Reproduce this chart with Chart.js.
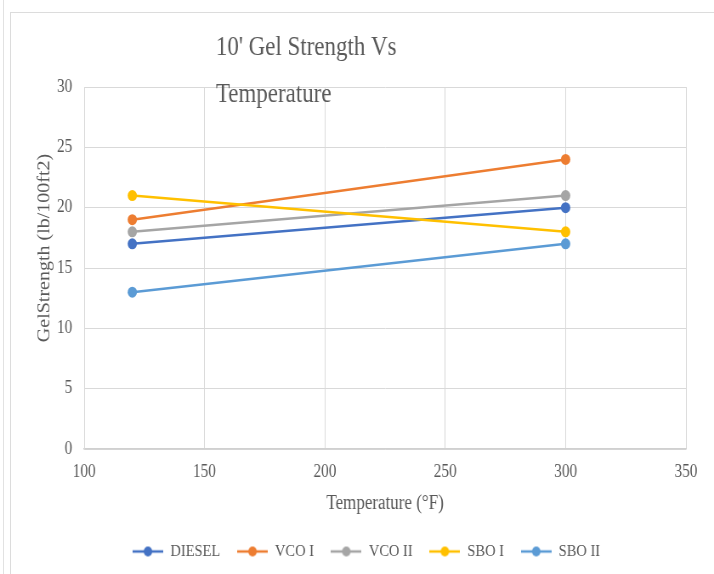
<!DOCTYPE html>
<html>
<head>
<meta charset="utf-8">
<script src="https://cdn.jsdelivr.net/npm/chart.js@4/dist/chart.umd.min.js"></script>
<style>
  html, body { margin: 0; padding: 0; background: #ffffff; overflow: hidden; }
  #wrap { position: relative; width: 714px; height: 574px; }
  #edge { position: absolute; left: 3px; top: 0; width: 1px; height: 574px; background: #e2e2e2; }
  #box { position: absolute; left: 10px; top: 12px; width: 720px; height: 600px; border: 1px solid #dcdcdc; box-sizing: border-box; }
  #c { position: absolute; left: 0; top: 0; width: 714px; height: 574px; }
</style>
</head>
<body>
<div id="wrap">
  <div id="edge"></div>
  <div id="box"></div>
  <canvas id="c" width="840" height="574" style="width:714px;height:574px;"></canvas>
</div>
<script>
// ---- data ----
const temperatures = [120, 300];
const seriesNames = ['DIESEL', 'VCO I', 'VCO II', 'SBO I', 'SBO II'];
const diesel = [17, 20];
const vcoI = [19, 24];
const vcoII = [18, 21];
const sboI = [21, 18];
const sboII = [13, 17];
const xTickValues = [100, 150, 200, 250, 300, 350];
const yTickValues = [0, 5, 10, 15, 20, 25, 30];
const titleLines = ["10' Gel Strength Vs", 'Temperature'];
const xTitle = 'Temperature (°F)';
const yTitle = 'GelStrength (lb/100ft2)';

const colors = ['#4472C4', '#ED7D31', '#A5A5A5', '#FFC000', '#5B9BD5'];
const values = [diesel, vcoI, vcoII, sboI, sboII];
const FONT = "'Liberation Serif', 'Times New Roman', serif";
const TEXT = '#595959';

function legendIcon(color) {
  const c = document.createElement('canvas');
  c.width = 36; c.height = 12;
  const g = c.getContext('2d');
  g.strokeStyle = color; g.lineWidth = 2.5;
  g.beginPath(); g.moveTo(0, 6); g.lineTo(36, 6); g.stroke();
  g.fillStyle = color;
  g.beginPath(); g.arc(18, 6, 5, 0, Math.PI * 2); g.fill();
  return c;
}
const icons = colors.map(legendIcon);

const datasets = seriesNames.map((name, i) => ({
  label: name,
  data: temperatures.map((t, j) => ({ x: t, y: values[i][j] })),
  borderColor: colors[i],
  backgroundColor: colors[i],
  borderWidth: 2.5,
  pointRadius: 5.5,
  pointHoverRadius: 5.5,
  pointBorderWidth: 0,
  order: seriesNames.length - i
}));

const textPlugin = {
  id: 'textPlugin',
  afterDraw(chart) {
    const ctx = chart.ctx;
    ctx.save();
    ctx.fillStyle = TEXT;
    ctx.textBaseline = 'middle';
    ctx.textAlign = 'left';
    ctx.font = '27px ' + FONT;
    ctx.fillText(titleLines[0], 254, 48);
    ctx.fillText(titleLines[1], 254, 95);
    ctx.translate(53, 248);
    ctx.rotate(-Math.PI / 2);
    ctx.textAlign = 'center';
    ctx.font = '20px ' + FONT;
    ctx.fillText(yTitle, 0, 0);
    ctx.restore();
  }
};

new Chart(document.getElementById('c'), {
  type: 'line',
  data: { datasets },
  plugins: [textPlugin],
  options: {
    responsive: false,
    animation: false,
    devicePixelRatio: 1,
    layout: { padding: { top: 87, right: 33, bottom: 4, left: 55 } },
    plugins: {
      title: { display: false },
      tooltip: { enabled: false },
      legend: {
        position: 'bottom',
        labels: {
          usePointStyle: true,
          pointStyleWidth: 36,
          padding: 20,
          color: TEXT,
          font: { family: FONT, size: 17 },
          generateLabels(chart) {
            const items = Chart.defaults.plugins.legend.labels.generateLabels(chart);
            items.forEach(it => { it.pointStyle = icons[it.datasetIndex]; it.rotation = 0; });
            return items;
          },
          sort: (a, b) => a.datasetIndex - b.datasetIndex
        }
      }
    },
    scales: {
      x: {
        type: 'linear',
        min: xTickValues[0],
        max: xTickValues[xTickValues.length - 1],
        afterBuildTicks(scale) { scale.ticks = xTickValues.map(v => ({ value: v })); },
        afterFit(scale) { scale.height = 74; },
        grid: { color: '#d9d9d9', lineWidth: 1, drawTicks: false },
        border: { color: '#d0d0d0', width: 1.5 },
        ticks: { padding: 12, color: TEXT, font: { family: FONT, size: 18 } },
        title: { display: true, text: xTitle, color: TEXT, font: { family: FONT, size: 20 }, padding: { top: 0, bottom: 7 } }
      },
      y: {
        min: yTickValues[0],
        max: yTickValues[yTickValues.length - 1],
        afterBuildTicks(scale) { scale.ticks = yTickValues.map(v => ({ value: v })); },
        afterFit(scale) { scale.width = 44; },
        grid: { color: '#d9d9d9', lineWidth: 1, drawTicks: false },
        border: { color: '#d9d9d9', width: 1 },
        ticks: { padding: 14, color: TEXT, font: { family: FONT, size: 18 } },
        title: { display: false }
      }
    }
  }
});
</script>
</body>
</html>
